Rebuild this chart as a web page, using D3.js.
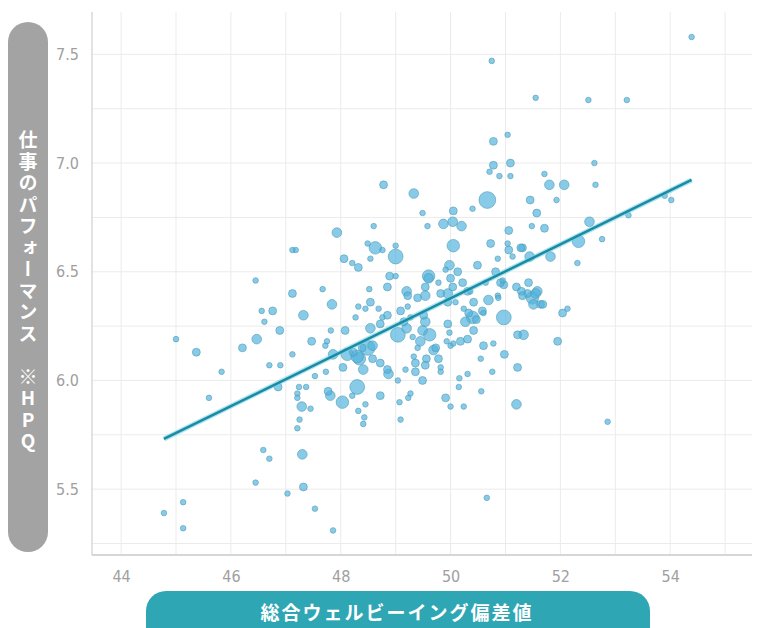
<!DOCTYPE html>
<html>
<head>
<meta charset="utf-8">
<script src="https://cdn.jsdelivr.net/npm/d3@7"></script>
<style>
  body { margin: 0; background: #fff; }
</style>
</head>
<body>
<div id="chart"></div>
<script>
  // 総合ウェルビーイング偏差値 (x) / 仕事のパフォーマンス HPQ (y) / size weight (n)
  var xs = [54.39, 50.75, 51.55, 52.51, 53.21, 50.78, 51.04, 50.78, 50.71, 50.89, 51.09, 51.09, 51.71, 52.62, 52.64, 51.80, 52.07, 48.78, 49.33, 50.67,
    50.40, 51.45, 51.93, 50.05, 49.49, 51.57, 51.48, 51.71, 52.53, 52.33, 52.76, 53.24, 53.90, 54.02, 51.82, 51.44, 52.31, 51.31, 49.58, 49.87,
    50.04, 50.20, 51.06, 50.73, 51.04, 51.28, 51.06, 51.13, 50.86, 50.05, 49.98, 49.91, 50.13, 49.60, 49.54, 49.78, 50.04, 50.22, 49.95, 50.36,
    50.64, 50.97, 50.95, 51.42, 51.58, 51.40, 50.86, 48.60, 47.93, 47.18, 47.12, 48.49, 48.63, 48.76, 49.00, 49.00, 48.54, 48.06, 48.21, 48.32,
    48.89, 49.00, 47.67, 48.52, 48.85, 49.20, 47.12, 46.45, 46.56, 46.76, 46.61, 47.32, 46.89, 46.47, 46.21, 45.37, 45.00, 45.83, 47.47, 47.12,
    46.70, 46.90, 47.53, 46.86, 47.24, 47.37, 45.60, 47.21, 47.21, 47.29, 47.45, 47.25, 47.21, 46.59, 46.70, 47.30, 46.45, 47.32, 47.03, 47.53,
    45.13, 44.78, 45.13, 47.86, 50.66, 52.86, 47.84, 47.75, 47.82, 48.04, 47.73, 47.81, 48.03, 48.30, 48.21, 48.32, 48.43, 48.41, 48.72, 49.07,
    49.23, 49.09, 48.87, 49.04, 48.72, 48.32, 48.54, 48.45, 48.27, 48.54, 48.49, 48.34, 48.41, 48.23, 48.76, 48.72, 49.04, 49.22, 49.27, 49.15,
    49.20, 49.40, 49.51, 49.54, 49.31, 49.40, 49.33, 49.36, 49.45, 49.62, 49.56, 49.73, 49.78, 49.82, 49.93, 49.98, 49.95, 50.00, 50.18, 50.31,
    50.42, 50.27, 50.47, 50.33, 50.24, 49.95, 50.09, 50.31, 50.42, 50.58, 50.69, 50.97, 50.82, 51.20, 51.29, 50.60, 50.78, 50.55, 50.76, 50.98,
    51.22, 51.33, 51.22, 50.56, 50.24, 50.00, 49.91, 51.20, 48.08, 47.86, 48.12, 48.58, 48.58, 49.18, 49.36, 49.54, 49.49, 48.45, 49.09, 48.85,
    48.69, 49.54, 50.40, 51.31, 51.49, 51.64, 50.60, 51.95, 52.04, 52.13, 49.69, 50.16, 50.31, 50.15, 51.51,
    49.60, 50.91, 47.72, 48.30, 48.39, 48.85, 47.77, 49.27, 50.87, 50.05, 49.82, 51.55, 51.68, 49.22, 49.82, 49.49, 50.00, 50.49];
  var ys = [7.58, 7.47, 7.30, 7.29, 7.29, 7.10, 7.13, 6.99, 6.96, 6.94, 7.00, 6.94, 6.95, 7.00, 6.90, 6.90, 6.90, 6.90, 6.86, 6.83,
    6.79, 6.83, 6.83, 6.78, 6.77, 6.77, 6.71, 6.70, 6.73, 6.64, 6.65, 6.76, 6.85, 6.83, 6.57, 6.57, 6.54, 6.61, 6.71, 6.72,
    6.73, 6.71, 6.69, 6.63, 6.63, 6.61, 6.60, 6.57, 6.56, 6.62, 6.53, 6.51, 6.50, 6.48, 6.43, 6.45, 6.43, 6.45, 6.40, 6.41,
    6.45, 6.44, 6.46, 6.45, 6.41, 6.40, 6.39, 6.71, 6.68, 6.60, 6.60, 6.63, 6.61, 6.60, 6.62, 6.57, 6.56, 6.56, 6.54, 6.52,
    6.48, 6.48, 6.42, 6.42, 6.43, 6.41, 6.40, 6.46, 6.32, 6.32, 6.27, 6.30, 6.23, 6.19, 6.15, 6.13, 6.19, 6.04, 6.18, 6.12,
    6.07, 6.07, 6.02, 5.97, 5.97, 5.97, 5.92, 5.94, 5.92, 5.88, 5.87, 5.82, 5.78, 5.68, 5.64, 5.66, 5.53, 5.51, 5.48, 5.41,
    5.44, 5.39, 5.32, 5.31, 5.46, 5.81, 6.35, 6.18, 6.23, 6.06, 6.04, 5.93, 5.90, 5.97, 5.93, 5.86, 5.83, 5.80, 5.93, 5.90,
    5.92, 5.82, 6.03, 6.00, 6.08, 6.34, 6.36, 6.33, 6.29, 6.24, 6.15, 6.10, 6.05, 6.13, 6.29, 6.26, 6.21, 6.34, 6.29, 6.27,
    6.24, 6.38, 6.30, 6.27, 6.20, 6.15, 6.11, 6.08, 6.18, 6.21, 6.10, 6.15, 6.10, 6.06, 6.18, 6.22, 6.26, 6.16, 6.18, 6.19,
    6.23, 6.27, 6.28, 6.31, 6.33, 6.36, 6.36, 6.41, 6.36, 6.32, 6.37, 6.29, 6.50, 6.43, 6.41, 6.16, 6.17, 6.10, 6.04, 6.12,
    6.21, 6.21, 6.06, 5.95, 5.88, 5.88, 5.92, 5.89, 6.23, 6.12, 6.12, 6.16, 6.10, 6.05, 6.04, 6.07, 6.00, 5.89, 6.32, 6.30,
    6.33, 6.39, 6.29, 6.39, 6.38, 6.35, 6.31, 6.18, 6.31, 6.33, 6.14, 6.01, 6.03, 5.97, 6.35,
    6.47, 6.45, 6.16, 6.11, 6.15, 6.05, 5.95, 5.94, 6.38, 6.17, 6.04, 6.40, 6.35, 6.39, 6.40, 6.23, 6.47, 6.53];
  var ns = [1, 1, 1, 1, 1, 2, 1, 2, 1, 1, 2, 1, 1, 1, 1, 3, 3, 2, 3, 9,
    1, 2, 1, 2, 1, 2, 1, 2, 3, 5, 1, 1, 1, 1, 3, 3, 1, 2, 1, 3,
    3, 3, 2, 2, 1, 2, 2, 1, 1, 5, 3, 1, 2, 5, 2, 1, 2, 2, 3, 1,
    1, 2, 1, 2, 3, 2, 1, 1, 3, 1, 1, 1, 5, 1, 1, 7, 1, 2, 1, 2,
    2, 1, 1, 1, 2, 3, 2, 1, 1, 2, 1, 3, 2, 3, 2, 2, 1, 1, 2, 1,
    1, 1, 1, 2, 1, 1, 1, 1, 1, 3, 1, 1, 1, 1, 1, 3, 1, 2, 1, 1,
    1, 1, 1, 1, 1, 1, 3, 1, 1, 2, 1, 3, 5, 7, 1, 1, 1, 1, 2, 1,
    1, 1, 3, 1, 2, 1, 2, 1, 1, 3, 7, 5, 3, 2, 1, 2, 7, 1, 1, 2,
    3, 2, 2, 3, 1, 1, 1, 2, 3, 5, 2, 2, 2, 1, 1, 1, 2, 1, 2, 2,
    2, 3, 2, 2, 1, 2, 1, 2, 2, 2, 3, 7, 2, 2, 2, 2, 1, 1, 1, 2,
    2, 3, 2, 1, 1, 1, 2, 3, 2, 3, 5, 3, 2, 1, 2, 2, 2, 1, 2, 2,
    1, 3, 5, 2, 5, 2, 1, 2, 2, 1, 3, 1, 1, 1, 3,
    3, 2, 1, 5, 2, 2, 2, 1, 1, 1, 1, 3, 2, 2, 2, 3, 2, 2];

  var xTicks = [44, 46, 48, 50, 52, 54];
  var yTicks = [5.5, 6.0, 6.5, 7.0, 7.5];
  var xGrid = [44, 45, 46, 47, 48, 49, 50, 51, 52, 53, 54, 55];
  var yGrid = [5.25, 5.5, 5.75, 6.0, 6.25, 6.5, 6.75, 7.0, 7.25, 7.5];

  // fitted regression line
  var trendSlope = 0.124;
  var trendIntercept = 0.178;

  var xTitle = "総合ウェルビーイング偏差値";
  var yTitle = "仕事のパフォーマンス　※HPQ";

  var width = 761, height = 628;
  var margin = { top: 12, right: 9, bottom: 73, left: 92 };

  var svg = d3.select("#chart")
    .append("svg")
    .attr("width", width)
    .attr("height", height);

  var x = d3.scaleLinear()
    .domain([43.47, 55.49])
    .range([margin.left, width - margin.right]);

  var y = d3.scaleLinear()
    .domain([5.197, 7.695])
    .range([height - margin.bottom, margin.top]);

  var r = d3.scaleSqrt().domain([0, 1]).range([0, 2.8]);

  /* ------- GRID -------*/
  var grid = svg.append("g").attr("class", "grid")
    .attr("stroke", "#ebebeb")
    .attr("stroke-width", 1);

  grid.selectAll("line.v")
    .data(xGrid)
    .enter()
    .append("line")
    .attr("class", "v")
    .attr("x1", function(d) { return x(d); })
    .attr("x2", function(d) { return x(d); })
    .attr("y1", margin.top)
    .attr("y2", height - margin.bottom);

  grid.selectAll("line.h")
    .data(yGrid)
    .enter()
    .append("line")
    .attr("class", "h")
    .attr("x1", margin.left)
    .attr("x2", width - margin.right)
    .attr("y1", function(d) { return y(d); })
    .attr("y2", function(d) { return y(d); });

  // axis lines
  svg.append("line")
    .attr("x1", margin.left).attr("x2", margin.left)
    .attr("y1", margin.top).attr("y2", height - margin.bottom)
    .attr("stroke", "#d9d9d9").attr("stroke-width", 1.5);

  svg.append("line")
    .attr("x1", margin.left).attr("x2", width - margin.right)
    .attr("y1", height - margin.bottom).attr("y2", height - margin.bottom)
    .attr("stroke", "#d6d6d6").attr("stroke-width", 2);

  /* ------- AXES -------*/
  var tickFont = "'Liberation Sans Narrow', 'DejaVu Sans Condensed', sans-serif";

  var xAxis = svg.append("g")
    .attr("transform", "translate(0," + (height - margin.bottom + 13) + ")")
    .call(d3.axisBottom(x).tickValues(xTicks).tickSize(0).tickFormat(d3.format("d")));
  xAxis.select(".domain").remove();
  xAxis.selectAll("text")
    .attr("fill", "#a0a0a0")
    .style("font-family", tickFont)
    .style("font-size", "16px");

  var yAxis = svg.append("g")
    .attr("transform", "translate(" + (margin.left - 10) + ",0)")
    .call(d3.axisLeft(y).tickValues(yTicks).tickSize(0).tickFormat(d3.format(".1f")));
  yAxis.select(".domain").remove();
  yAxis.selectAll("text")
    .attr("fill", "#a0a0a0")
    .style("font-family", tickFont)
    .style("font-size", "16px");

  /* ------- POINTS -------*/
  var points = xs.map(function(v, i) {
    return { x: v, y: ys[i], n: ns[i] };
  }).sort(function(a, b) { return b.n - a.n; });

  svg.append("g")
    .attr("class", "points")
    .selectAll("circle")
    .data(points)
    .enter()
    .append("circle")
    .attr("cx", function(d) { return x(d.x); })
    .attr("cy", function(d) { return y(d.y); })
    .attr("r", function(d) { return r(d.n); })
    .attr("fill", "#4fb2dd")
    .attr("fill-opacity", 0.68)
    .attr("stroke", "#4b97ae")
    .attr("stroke-opacity", 0.55)
    .attr("stroke-width", 1);

  /* ------- TREND LINE -------*/
  var xExtent = d3.extent(xs);
  var trend = xExtent.map(function(v) {
    return [v, trendIntercept + trendSlope * v];
  });
  var line = d3.line()
    .x(function(d) { return x(d[0]); })
    .y(function(d) { return y(d[1]); });

  svg.append("path")
    .datum(trend)
    .attr("d", line)
    .attr("stroke", "#6fd3ea")
    .attr("stroke-opacity", 0.6)
    .attr("stroke-width", 5)
    .attr("fill", "none");

  svg.append("path")
    .datum(trend)
    .attr("d", line)
    .attr("stroke", "#1d8aa2")
    .attr("stroke-width", 2.5)
    .attr("fill", "none");

  /* ------- TITLES -------*/
  svg.append("rect")
    .attr("x", 8).attr("y", 22)
    .attr("width", 40).attr("height", 530)
    .attr("rx", 20).attr("ry", 20)
    .attr("fill", "#a3a3a3");

  svg.append("text")
    .attr("x", 28)
    .attr("y", 292)
    .attr("text-anchor", "middle")
    .style("writing-mode", "vertical-rl")
    .style("text-orientation", "upright")
    .style("font-family", "'Noto Sans CJK JP', sans-serif")
    .style("font-weight", "700")
    .style("font-size", "19px")
    .style("letter-spacing", "2.5px")
    .attr("fill", "#fff")
    .text(yTitle);

  svg.append("rect")
    .attr("x", 146).attr("y", 591)
    .attr("width", 504).attr("height", 60)
    .attr("rx", 20).attr("ry", 20)
    .attr("fill", "#2ea6b4");

  svg.append("text")
    .attr("x", 397)
    .attr("y", 611)
    .attr("text-anchor", "middle")
    .attr("dominant-baseline", "central")
    .style("font-family", "'Noto Sans CJK JP', sans-serif")
    .style("font-weight", "700")
    .style("font-size", "19px")
    .style("letter-spacing", "2px")
    .attr("fill", "#fff")
    .text(xTitle);
</script>
</body>
</html>
